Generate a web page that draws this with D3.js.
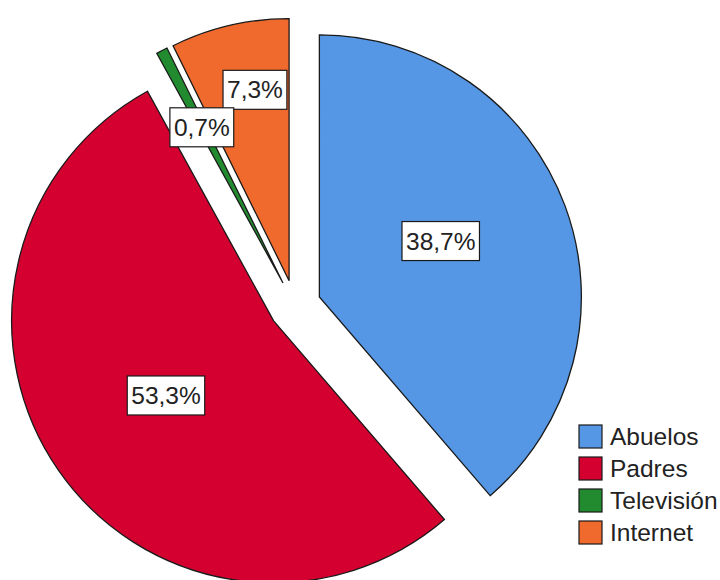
<!DOCTYPE html>
<html>
<head>
<meta charset="utf-8">
<script src="https://cdn.jsdelivr.net/npm/d3@7"></script>
<style>
  html, body { margin: 0; padding: 0; background: #fff; }
  svg { display: block; font-family: "Liberation Sans", Arial, sans-serif; }
</style>
</head>
<body>
<svg id="chart" width="720" height="580"></svg>
<script>
// Fuentes de información: porcentaje por categoría
const categories = ["Abuelos", "Padres", "Televisión", "Internet"];
const values = [38.7, 53.3, 0.7, 7.3];
const labels = ["38,7%", "53,3%", "0,7%", "7,3%"];
const colors = ["#5597e5", "#d30030", "#228b30", "#f06a2d"];
// placement of each percentage label: fraction of the radius and angle nudge (degrees)
const labelRadius = [0.51, 0.5, 0.67, 0.74];
const labelNudge = [-4.4, 0, 0, 3];

const width = 720, height = 580;
const cx = 295, cy = 306;
const radius = 262;
const explode = 26;

const svg = d3.select("#chart");

const data = categories.map((c, i) => ({
  cat: c, value: values[i], label: labels[i], color: colors[i],
  lr: labelRadius[i], nudge: labelNudge[i]
}));

const pie = d3.pie().sort(null).value(d => d.value);
const arcs = pie(data);
const arc = d3.arc().innerRadius(0).outerRadius(radius);

// offset each slice outwards along its bisector
function shift(d) {
  const a = (d.startAngle + d.endAngle) / 2;
  return [Math.sin(a) * explode, -Math.cos(a) * explode];
}

const g = svg.append("g").attr("transform", `translate(${cx},${cy})`);

g.append("g").selectAll("path").data(arcs).join("path")
  .attr("transform", d => { const s = shift(d); return `translate(${s[0]},${s[1]})`; })
  .attr("d", arc)
  .attr("fill", d => d.data.color)
  .attr("stroke", "#1a1a1a")
  .attr("stroke-width", 1.3)
  .attr("stroke-linejoin", "miter");

// percentage labels in white boxes, drawn above all slices
const fontSize = 24.5;
const labelLayer = g.append("g");
const lab = labelLayer.selectAll("g").data(arcs.slice().reverse()).join("g")
  .attr("transform", d => {
    const s = shift(d);
    const a = (d.startAngle + d.endAngle) / 2 + d.data.nudge * Math.PI / 180;
    const rr = radius * d.data.lr;
    return `translate(${s[0] + Math.sin(a) * rr},${s[1] - Math.cos(a) * rr})`;
  });
lab.each(function(d) {
  const sel = d3.select(this);
  const t = sel.append("text")
    .attr("text-anchor", "middle")
    .attr("dominant-baseline", "central")
    .attr("font-size", fontSize)
    .attr("fill", "#222")
    .text(d.data.label);
  const w = t.node().getComputedTextLength();
  const bw = w + 8, bh = 39;
  sel.insert("rect", "text")
    .attr("x", -bw / 2).attr("y", -bh / 2)
    .attr("width", bw).attr("height", bh)
    .attr("fill", "#fff")
    .attr("stroke", "#1a1a1a")
    .attr("stroke-width", 1.2);
});

// legend
const legend = svg.append("g").attr("transform", "translate(579,425)");
const rowH = 32, sw = 23;
const items = legend.selectAll("g").data(data).join("g")
  .attr("transform", (d, i) => `translate(0,${i * rowH})`);
items.append("rect")
  .attr("width", sw).attr("height", sw)
  .attr("fill", d => d.color)
  .attr("stroke", "#1a1a1a")
  .attr("stroke-width", 1.2);
items.append("text")
  .attr("x", sw + 8).attr("y", sw / 2)
  .attr("dominant-baseline", "central")
  .attr("font-size", fontSize)
  .attr("fill", "#222")
  .text(d => d.cat);
</script>
</body>
</html>
